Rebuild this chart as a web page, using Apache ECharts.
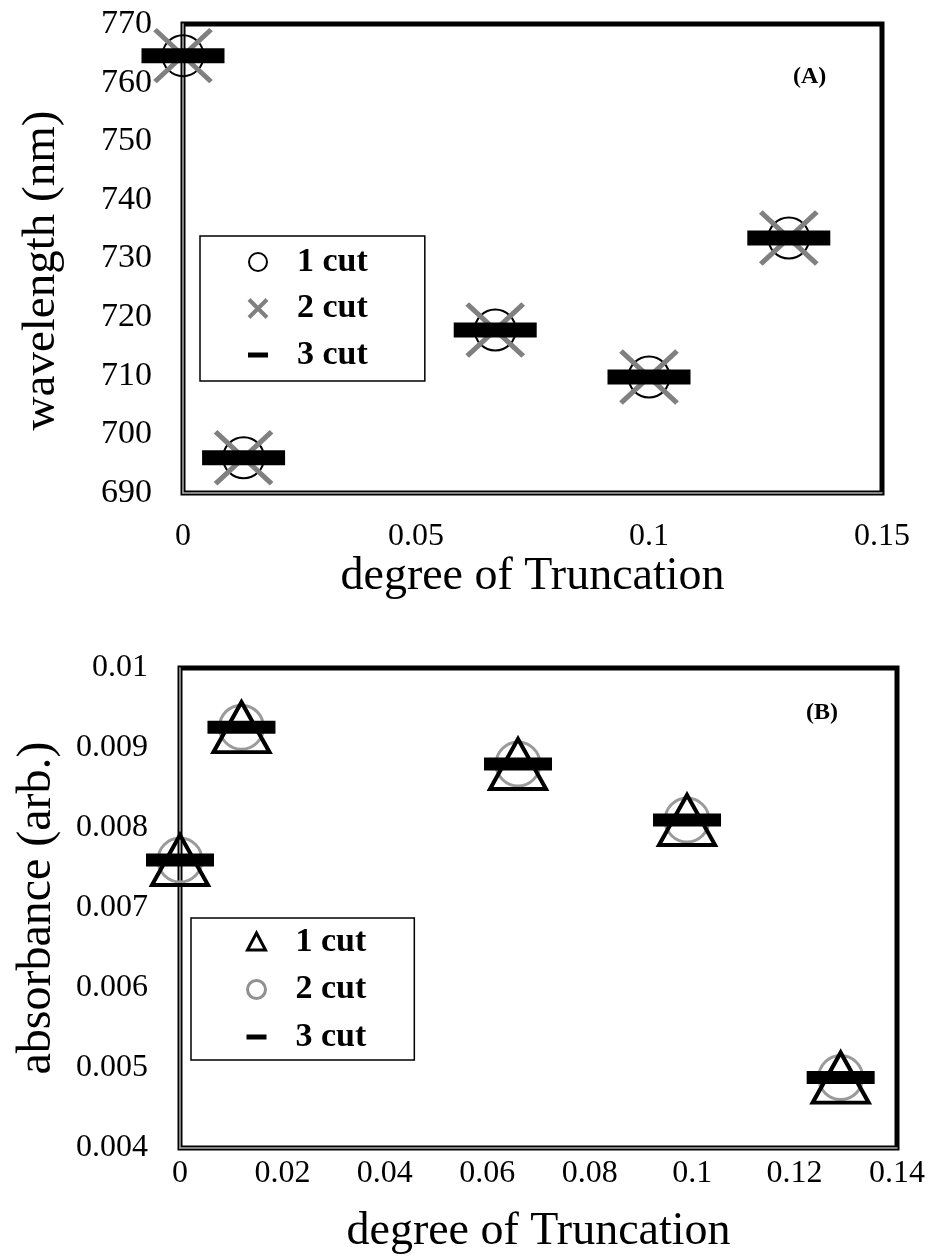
<!DOCTYPE html>
<html>
<head>
<meta charset="utf-8">
<script src="https://cdn.jsdelivr.net/npm/echarts@6/dist/echarts.min.js"></script>
<style>
html, body { margin: 0; padding: 0; background: #fff; }
#chart { width: 932px; height: 1259px; }
</style>
</head>
<body>
<div id="chart"></div>
<script>
// ---- Data: panel (A) wavelength vs degree of truncation ----
const xA = [0, 0.013, 0.067, 0.1, 0.13];
const yA_cut1 = [764.6, 696.0, 717.8, 709.8, 733.5];
const yA_cut2 = [764.6, 696.0, 717.8, 709.8, 733.5];
const yA_cut3 = [764.6, 696.0, 717.8, 709.8, 733.5];
const xTicksA = ['0', '0.05', '0.1', '0.15'];
const yTicksA = ['690', '700', '710', '720', '730', '740', '750', '760', '770'];

// ---- Data: panel (B) absorbance vs degree of truncation ----
const xB = [0, 0.012, 0.066, 0.099, 0.129];
const yB_cut1 = [0.0076, 0.00926, 0.0088, 0.0081, 0.00488];
const yB_cut2 = [0.0076, 0.00926, 0.0088, 0.0081, 0.00488];
const yB_cut3 = [0.0076, 0.00926, 0.0088, 0.0081, 0.00488];
const xTicksB = ['0', '0.02', '0.04', '0.06', '0.08', '0.1', '0.12', '0.14'];
const yTicksB = ['0.004', '0.005', '0.006', '0.007', '0.008', '0.009', '0.01'];

const seriesNames = ['1 cut', '2 cut', '3 cut'];

const FONT = "'Liberation Serif', 'Times New Roman', serif";
function pts(xs, ys) { return xs.map((x, i) => [x, ys[i]]); }
function lab(arr) {
  return function (v) {
    const t = arr.find(s => Math.abs(parseFloat(s) - v) < 1e-9);
    return t === undefined ? '' : t;
  };
}
const PAD = 'M0,0L0,0M22,22L22,22';
const iconCircle = 'path://' + PAD + 'M20,11A9,9,0,1,1,2,11A9,9,0,1,1,20,11Z';
const iconX = 'path://' + PAD + 'M2,2L20,20M20,2L2,20';
const iconDash = 'path://' + PAD + 'M1,8.5H21V13.5H1Z';
const iconTri = 'path://' + PAD + 'M11,2L20,19H2Z';

function xAxisCfg(grid, max, interval, ticks, margin, nameGap) {
  return {
    gridIndex: grid, type: 'value', min: 0, max: max, interval: interval,
    axisLine: { show: true, onZero: false, lineStyle: { color: '#b0b0b0', width: 1.5 } },
    axisTick: { show: false }, splitLine: { show: false },
    axisLabel: { formatter: lab(ticks), fontFamily: FONT, fontSize: 32, color: '#000', margin: margin },
    name: 'degree of Truncation', nameLocation: 'middle', nameGap: nameGap,
    nameTextStyle: { fontFamily: FONT, fontSize: 46, color: '#000' }
  };
}
function yAxisCfg(grid, min, max, interval, ticks, fontSize, margin, name, nameGap, nameSize, namePad) {
  return {
    gridIndex: grid, type: 'value', min: min, max: max, interval: interval,
    axisLine: { show: true, onZero: false, lineStyle: { color: '#b0b0b0', width: 1.5 } },
    axisTick: { show: false }, splitLine: { show: false },
    axisLabel: { formatter: lab(ticks), fontFamily: FONT, fontSize: fontSize, color: '#000', margin: margin },
    name: name, nameLocation: 'middle', nameGap: nameGap,
    nameTextStyle: { fontFamily: FONT, fontSize: nameSize, color: '#000', padding: namePad }
  };
}
const legendText = { fontFamily: FONT, fontSize: 34, fontWeight: 'bold', color: '#000', lineHeight: 34 };

const option = {
  animation: false,
  backgroundColor: '#fff',
  title: [
    { text: '(A)', left: 788, top: 60, padding: 5, textStyle: { fontFamily: FONT, fontWeight: 'bold', fontSize: 24, color: '#000' } },
    { text: '(B)', left: 801, top: 696, padding: 5, textStyle: { fontFamily: FONT, fontWeight: 'bold', fontSize: 24, color: '#000' } }
  ],
  grid: [
    { left: 183, top: 24, right: 50, bottom: 766, show: true, borderColor: '#000', borderWidth: 5, backgroundColor: 'transparent' },
    { left: 180, top: 668, right: 35, bottom: 111, show: true, borderColor: '#000', borderWidth: 5, backgroundColor: 'transparent' }
  ],
  xAxis: [
    xAxisCfg(0, 0.15, 0.05, xTicksA, 28, 56),
    xAxisCfg(1, 0.14, 0.02, xTicksB, 10, 61)
  ],
  yAxis: [
    yAxisCfg(0, 690, 770, 10, yTicksA, 34, 31, 'wavelength (nm)', 118, 47, [0, 24, 0, 0]),
    yAxisCfg(1, 0.004, 0.01, 0.001, yTicksB, 32, 32, 'absorbance (arb.)', 119, 48, [0, 0, 0, 0])
  ],
  legend: [
    {
      orient: 'vertical', left: 200, top: 236, padding: [9, 57, 9, 45],
      itemWidth: 68, itemHeight: 22, itemGap: 12.5,
      backgroundColor: '#fff', borderColor: '#000', borderWidth: 1.5,
      textStyle: legendText, selectedMode: false,
      data: [
        { name: seriesNames[0], icon: iconCircle, itemStyle: { color: 'transparent', borderColor: '#000', borderWidth: 2, opacity: 1 } },
        { name: seriesNames[1], icon: iconX, itemStyle: { color: 'transparent', borderColor: '#808080', borderWidth: 4, opacity: 1 } },
        { name: seriesNames[2], icon: iconDash, itemStyle: { color: '#000', borderWidth: 0, opacity: 1 } }
      ]
    },
    {
      orient: 'vertical', left: 191, top: 918, padding: [7, 48, 6, 53],
      itemWidth: 68, itemHeight: 22, itemGap: 13.5,
      backgroundColor: '#fff', borderColor: '#000', borderWidth: 1.5,
      textStyle: legendText, selectedMode: false,
      data: [
        { name: seriesNames[0], icon: iconTri, itemStyle: { color: 'transparent', borderColor: '#000', borderWidth: 3, opacity: 1 } },
        { name: seriesNames[1], icon: iconCircle, itemStyle: { color: 'transparent', borderColor: '#909090', borderWidth: 3, opacity: 1 } },
        { name: seriesNames[2], icon: iconDash, itemStyle: { color: '#000', borderWidth: 0, opacity: 1 } }
      ]
    }
  ],
  series: [
    // Panel A
    { type: 'scatter', name: seriesNames[0], xAxisIndex: 0, yAxisIndex: 0, data: pts(xA, yA_cut1),
      symbol: 'circle', symbolSize: 41, clip: false,
      itemStyle: { color: 'transparent', borderColor: '#000', borderWidth: 2, opacity: 1 } },
    { type: 'scatter', name: seriesNames[1], xAxisIndex: 0, yAxisIndex: 0, data: pts(xA, yA_cut2),
      symbol: 'path://M0,0L10,10M10,0L0,10', symbolSize: [56, 52], clip: false,
      itemStyle: { color: 'transparent', borderColor: '#808080', borderWidth: 5, opacity: 1 } },
    { type: 'scatter', name: seriesNames[2], xAxisIndex: 0, yAxisIndex: 0, data: pts(xA, yA_cut3),
      symbol: 'rect', symbolSize: [83, 15], clip: false,
      itemStyle: { color: '#000', opacity: 1 } },
    // Panel B
    { type: 'scatter', name: seriesNames[1], xAxisIndex: 1, yAxisIndex: 1, data: pts(xB, yB_cut2),
      symbol: 'circle', symbolSize: 44, clip: false,
      itemStyle: { color: 'transparent', borderColor: '#9a9a9a', borderWidth: 3, opacity: 1 } },
    { type: 'scatter', name: seriesNames[0], xAxisIndex: 1, yAxisIndex: 1, data: pts(xB, yB_cut1),
      symbol: 'triangle', symbolSize: [56, 50], clip: false,
      itemStyle: { color: 'transparent', borderColor: '#000', borderWidth: 4, opacity: 1 } },
    { type: 'scatter', name: seriesNames[2], xAxisIndex: 1, yAxisIndex: 1, data: pts(xB, yB_cut3),
      symbol: 'rect', symbolSize: [68, 13], clip: false,
      itemStyle: { color: '#000', opacity: 1 } }
  ]
};

const chart = echarts.init(document.getElementById('chart'), null, { renderer: 'canvas' });
chart.setOption(option);
</script>
</body>
</html>
